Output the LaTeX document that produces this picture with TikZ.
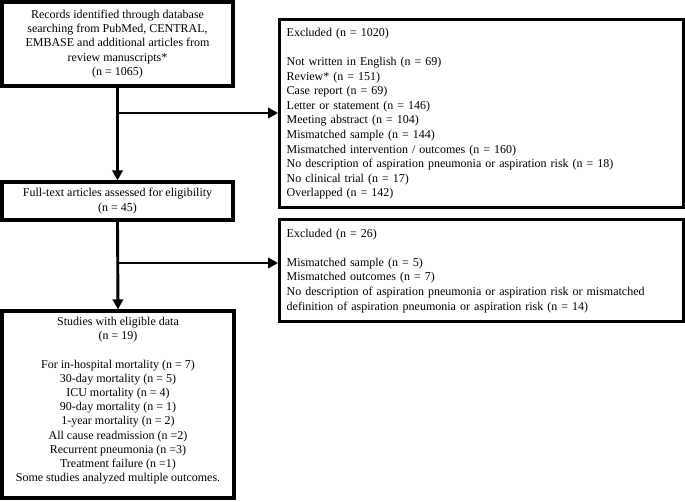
\documentclass[tikz,border=0pt]{standalone}
\usepackage{fontspec}
\setmainfont{Liberation Serif}
\usetikzlibrary{arrows.meta}
\begin{document}
\begin{tikzpicture}[x=1pt,y=-1pt,
  box/.style={draw, line width=3.4pt, inner sep=0pt, align=center, font=\fontsize{12}{14.2}\selectfont},
  rbox/.style={draw, line width=3.4pt, inner ysep=0pt, inner xsep=7pt, align=left, anchor=north west,
    text width=390pt, minimum width=404pt, font=\fontsize{12}{14.6}\selectfont},
  conn/.style={line width=2.9pt, -{Triangle[length=10pt,width=10.5pt]}}]
\useasboundingbox (0,0) rectangle (685,502);

\node[box, minimum width=231pt, minimum height=84pt] (rec) at (117.5,44)
  {Records identified through database\\
   searching from PubMed, CENTRAL,\\
   EMBASE and additional articles from\\
   review manuscripts*\\
   (n = 1065)};

\node[box, minimum width=231pt, minimum height=38pt] (full) at (117.5,201)
  {Full-text articles assessed for eligibility\\ (n = 45)};

\node[box, minimum width=232pt, minimum height=187pt] (stud) at (118,404.5)
  {Studies with eligible data\\
   (n = 19)\\[14.2pt]
   For in-hospital mortality (n = 7)\\
   30-day mortality (n = 5)\\
   ICU mortality (n = 4)\\
   90-day mortality (n = 1)\\
   1-year mortality (n = 2)\\
   All cause readmission (n =2)\\
   Recurrent pneumonia (n =3)\\
   Treatment failure (n =1)\\
   Some studies analyzed multiple outcomes.\\[-4pt]};

\node[rbox, minimum height=188pt] (ex1) at (278,18)
  {Excluded (n = 1020)\\[14.6pt]
   Not written in English (n = 69)\\
   Review* (n = 151)\\
   Case report (n = 69)\\
   Letter or statement (n = 146)\\
   Meeting abstract (n = 104)\\
   Mismatched sample (n = 144)\\
   Mismatched intervention / outcomes (n = 160)\\
   No description of aspiration pneumonia or aspiration risk (n = 18)\\
   No clinical trial (n = 17)\\
   Overlapped (n = 142)};

\node[rbox, minimum height=102pt] (ex2) at (278,218)
  {Excluded (n = 26)\\[14.6pt]
   Mismatched sample (n = 5)\\
   Mismatched outcomes (n = 7)\\
   No description of aspiration pneumonia or aspiration risk or mismatched\\
   definition of aspiration pneumonia or aspiration risk (n = 14)\\[4pt]};

\coordinate (j1) at (117.5,113);
\coordinate (j2) at (117.5,263);

\draw[conn] (rec.south) -- (full.north);
\draw[conn] (j1) -- (j1 -| ex1.west);
\draw[conn] (full.south) -- (stud.north);
\draw[conn] (j2) -- (j2 -| ex2.west);
\end{tikzpicture}
\end{document}
